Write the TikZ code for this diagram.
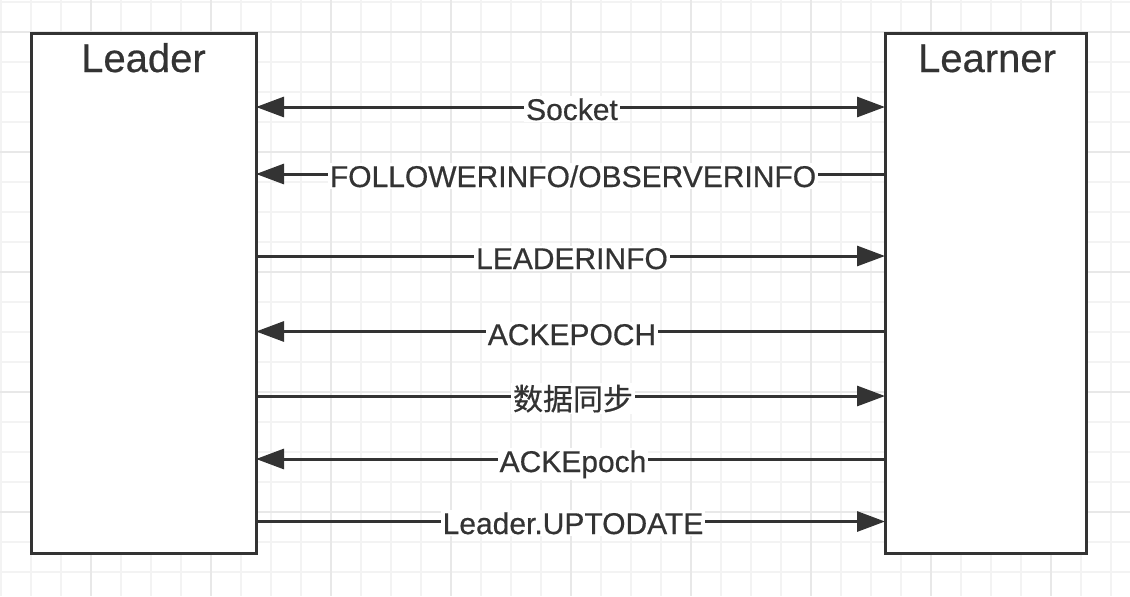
\documentclass[tikz,border=0pt]{standalone}
\usepackage{fontspec}
\setmainfont[FakeBold=0.5]{Liberation Sans}
\newfontfamily\cjk[FakeBold=0.5]{Noto Sans CJK SC}
\usetikzlibrary{arrows.meta}
\definecolor{ink}{HTML}{333333}
\definecolor{gridminor}{HTML}{F3F3F3}
\definecolor{gridmajor}{HTML}{E8E8E8}
\tikzset{
  box/.style={draw=ink, line width=2.25pt, fill=white, inner sep=0pt, outer sep=0pt},
  title/.style={text=ink, font=\fontsize{30}{35}\selectfont, anchor=base},
  msg/.style={text=ink, font=\fontsize{22.5}{26}\selectfont, fill=white, inner sep=1.5pt, anchor=base},
  arr/.style={draw=ink, line width=2.25pt, -{Triangle[length=21pt,width=15pt]}},
  arrboth/.style={draw=ink, line width=2.25pt, {Triangle[length=21pt,width=15pt]}-{Triangle[length=21pt,width=15pt]}},
}
\begin{document}
\begin{tikzpicture}[x=0.75pt,y=-0.75pt]
\useasboundingbox (0,0) rectangle (1130,596);
\fill[white] (0,0) rectangle (1130,596);
% grid
\foreach \gx in {1,31,...,1111} {\draw[gridminor, line width=1.2pt] (\gx,0) -- (\gx,596);}
\foreach \gy in {2,32,...,572} {\draw[gridminor, line width=1.2pt] (0,\gy) -- (1130,\gy);}
\foreach \gx in {91,211,...,1051} {\draw[gridmajor, line width=1.2pt] (\gx,0) -- (\gx,596);}
\foreach \gy in {32,152,...,512} {\draw[gridmajor, line width=1.2pt] (0,\gy) -- (1130,\gy);}
% boxes
\node[box, minimum width=168.75pt, minimum height=390pt] (leader) at (143.5,293) {};
\node[box, minimum width=150.75pt, minimum height=390pt] (learner) at (985.5,293) {};
\node[title] (leadertitle) at (143.5,72) {Leader};
\node[title] (learnertitle) at (987,72) {Learner};
% messages
\draw[arrboth] (leader.east |- 0,107) -- (learner.west |- 0,107);
\node[msg] (m1) at (572,120) {Socket};
\draw[arr] (learner.west |- 0,174) -- (leader.east |- 0,174);
\node[msg] (m2) at (573,187) {FOLLOWERINFO/OBSERVERINFO};
\draw[arr] (leader.east |- 0,256) -- (learner.west |- 0,256);
\node[msg] (m3) at (572,269) {LEADERINFO};
\draw[arr] (learner.west |- 0,331.5) -- (leader.east |- 0,331.5);
\node[msg] (m4) at (572,345) {ACKEPOCH};
\draw[arr] (leader.east |- 0,396) -- (learner.west |- 0,396);
\node[msg] (m5) at (573,410) {\cjk 数据同步};
\draw[arr] (learner.west |- 0,459) -- (leader.east |- 0,459);
\node[msg] (m6) at (573,472) {ACKEpoch};
\draw[arr] (leader.east |- 0,521.5) -- (learner.west |- 0,521.5);
\node[msg] (m7) at (573,534) {Leader.UPTODATE};
\end{tikzpicture}
\end{document}
